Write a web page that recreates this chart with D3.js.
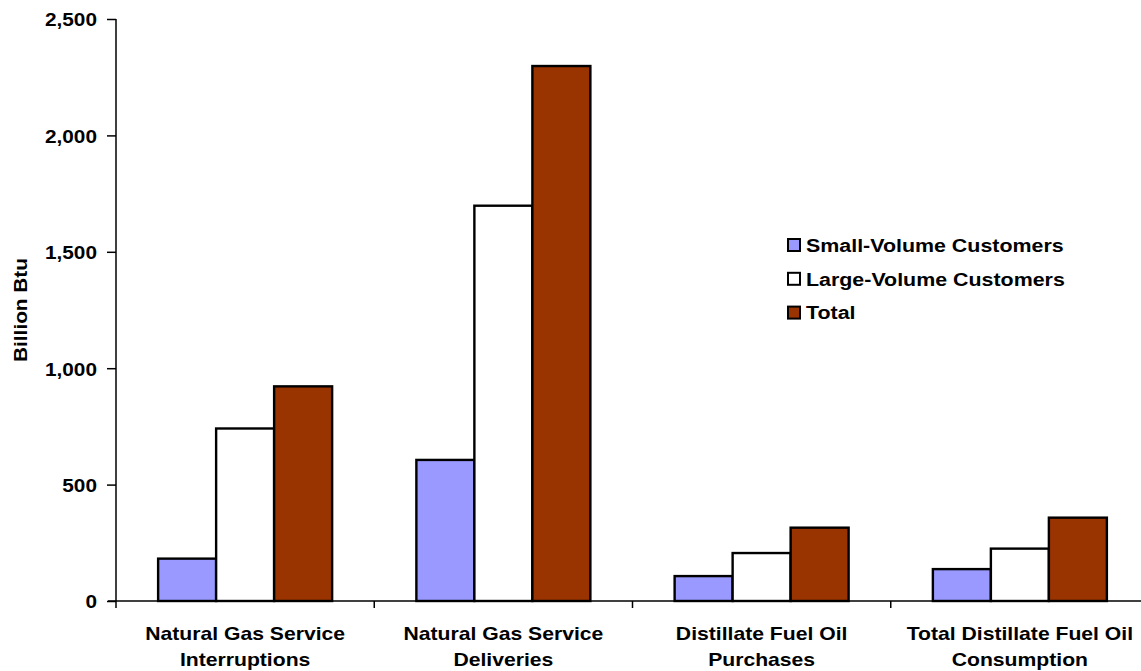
<!DOCTYPE html>
<html><head><meta charset="utf-8">
<script src="https://cdn.jsdelivr.net/npm/d3@7"></script>
<style>body{margin:0;background:#fff}svg{display:block}</style>
</head><body>
<svg id="c" width="1141" height="671"></svg>
<script>
const categories = [
  ["Natural Gas Service","Interruptions"],
  ["Natural Gas Service","Deliveries"],
  ["Distillate Fuel Oil","Purchases"],
  ["Total Distillate Fuel Oil","Consumption"]
];
const seriesNames = ["Small-Volume Customers","Large-Volume Customers","Total"];
const seriesColors = ["#9999ff","#ffffff","#993300"];
const smallVolume = [182, 606, 107, 137];
const largeVolume = [741, 1698, 206, 225];
const total = [922, 2298, 315, 358];
const yTicks = [0, 500, 1000, 1500, 2000, 2500];
const seriesValues = [smallVolume, largeVolume, total];

const FONT = "Liberation Sans, Arial, sans-serif";
const svg = d3.select("#c");
const x0 = d3.scaleBand().domain(d3.range(categories.length)).range([116, 1149]).paddingInner(0).paddingOuter(0);
const y = d3.scaleLinear().domain([0, 2500]).range([601, 19]);
const barW = 58;
const fmt = d3.format(",");

// bars
categories.forEach((c, i) => {
  const cx = x0(i) + x0.bandwidth() / 2;
  const x1 = d3.scaleBand().domain(d3.range(3)).range([cx - 1.5 * barW, cx + 1.5 * barW]);
  seriesValues.forEach((vals, s) => {
    svg.append("rect")
      .attr("x", x1(s)).attr("y", y(vals[i]))
      .attr("width", x1.bandwidth()).attr("height", y(0) - y(vals[i]))
      .attr("fill", seriesColors[s]).attr("stroke", "#000").attr("stroke-width", 2.4);
  });
});

// y axis
const yAxis = d3.axisLeft(y).tickValues(yTicks).tickFormat(fmt).tickSize(9).tickPadding(9);
const gy = svg.append("g").attr("transform", "translate(116,0)").call(yAxis);
gy.select(".domain").attr("stroke", "#000").attr("stroke-width", 1.5).attr("d", "M0,19V601");
gy.selectAll(".tick line").attr("stroke", "#000").attr("stroke-width", 1.5);
gy.selectAll(".tick text")
  .attr("font-family", FONT).attr("font-weight", "bold").attr("font-size", 19)
  .attr("fill", "#000").attr("x", 0).attr("dy", "0.36em")
  .attr("transform", "translate(-19,0) scale(1.095,1)");

// x axis
const xAxis = d3.axisBottom(x0).tickValues([]).tickSize(0);
const gx = svg.append("g").attr("transform", "translate(0,601)").call(xAxis);
gx.select(".domain").attr("stroke", "#000").attr("stroke-width", 1.5).attr("d", "M108,0H1149");
gx.selectAll(".sep").data(d3.range(categories.length)).enter().append("line")
  .attr("x1", i => x0(i)).attr("x2", i => x0(i)).attr("y1", 0).attr("y2", 7)
  .attr("stroke", "#000").attr("stroke-width", 1.5);

categories.forEach((c, i) => {
  const cx = x0(i) + x0.bandwidth() / 2;
  c.forEach((line, k) => {
    svg.append("text").attr("text-anchor", "middle")
      .attr("transform", `translate(${cx},${640 + k * 26}) scale(1.176,1)`)
      .attr("font-family", FONT).attr("font-weight", "bold").attr("font-size", 18)
      .attr("fill", "#000").text(line);
  });
});

// y label
svg.append("text").attr("transform", "translate(27,310) rotate(-90) scale(1.095,1)")
  .attr("text-anchor", "middle").attr("font-family", FONT)
  .attr("font-weight", "bold").attr("font-size", 19).text("Billion Btu");

// legend
const lg = svg.append("g");
seriesNames.forEach((n, s) => {
  const yy = 245 + s * 33.8;
  lg.append("rect").attr("x", 788).attr("y", yy - 6).attr("width", 12).attr("height", 12)
    .attr("fill", seriesColors[s]).attr("stroke", "#000").attr("stroke-width", 2);
  lg.append("text").attr("transform", `translate(806,${yy + 6.7}) scale(1.157,1)`)
    .attr("font-family", FONT).attr("font-weight", "bold")
    .attr("font-size", 18.5).text(n);
});
</script>
</body></html>
